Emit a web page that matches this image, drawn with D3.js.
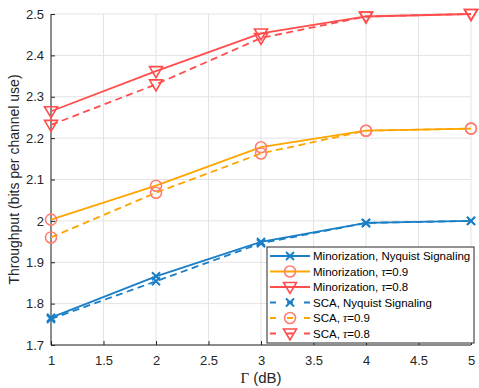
<!DOCTYPE html>
<html><head><meta charset="utf-8">
<script src="https://cdn.jsdelivr.net/npm/d3@7"></script>
<style>body{margin:0;background:#fff}svg{display:block}</style>
</head><body><svg id="c" width="479" height="388"></svg>
<script>
const gammaDb = [1, 2, 3, 4, 5];
const minNyquist = [1.766, 1.866, 1.949, 1.995, 2.000];
const minTau09 = [2.003, 2.085, 2.178, 2.218, 2.223];
const minTau08 = [2.265, 2.362, 2.453, 2.494, 2.500];
const scaNyquist = [1.763, 1.854, 1.946, 1.995, 2.000];
const scaTau09 = [1.960, 2.068, 2.163, 2.218, 2.223];
const scaTau08 = [2.232, 2.330, 2.442, 2.494, 2.500];
const xTicks = [1, 1.5, 2, 2.5, 3, 3.5, 4, 4.5, 5];
const yTicks = [1.7, 1.8, 1.9, 2.0, 2.1, 2.2, 2.3, 2.4, 2.5];

const BLUE = "#1a7fc6", ORANGE = "#ffa500", RED = "#ff4d4d", SALMON = "#ff7f73";
const series = [
  {name: "Minorization, Nyquist Signaling", vals: minNyquist, color: BLUE, mcolor: BLUE, marker: "x", dash: null},
  {name: "Minorization, ", tau: "0.9", vals: minTau09, color: ORANGE, mcolor: SALMON, marker: "o", dash: null},
  {name: "Minorization, ", tau: "0.8", vals: minTau08, color: RED, mcolor: RED, marker: "v", dash: null},
  {name: "SCA, Nyquist Signaling", vals: scaNyquist, color: BLUE, mcolor: BLUE, marker: "x", dash: "7,4.5"},
  {name: "SCA, ", tau: "0.9", vals: scaTau09, color: ORANGE, mcolor: SALMON, marker: "o", dash: "7,4.5"},
  {name: "SCA, ", tau: "0.8", vals: scaTau08, color: RED, mcolor: RED, marker: "v", dash: "7,4.5"}
];

const svg = d3.select("#c");
const L = 51, R = 471, T = 14, B = 345;
const x = d3.scaleLinear().domain([1, 5]).range([L, R]);
const y = d3.scaleLinear().domain([1.7, 2.5]).range([B, T]);
const font = "Helvetica, Arial, 'Liberation Sans', sans-serif";
const serif = "'Liberation Serif', 'DejaVu Serif', serif";

// grid
const g = svg.append("g");
g.selectAll(".gx").data(xTicks).enter().append("line")
  .attr("x1", d => x(d)).attr("x2", d => x(d)).attr("y1", T).attr("y2", B)
  .attr("stroke", "#e3e3e3").attr("stroke-width", 1);
g.selectAll(".gy").data(yTicks).enter().append("line")
  .attr("x1", L).attr("x2", R).attr("y1", d => y(d)).attr("y2", d => y(d))
  .attr("stroke", "#e3e3e3").attr("stroke-width", 1);

// axes
const xa = svg.append("g").attr("transform", `translate(0,${B})`)
  .call(d3.axisBottom(x).tickValues(xTicks).tickSize(-4).tickPadding(11).tickFormat(d3.format("")));
const ya = svg.append("g").attr("transform", `translate(${L},0)`)
  .call(d3.axisLeft(y).tickValues(yTicks).tickSize(-4).tickPadding(7).tickFormat(d => d3.format("")(+d.toFixed(1))));
[xa, ya].forEach(a => {
  a.select(".domain").attr("stroke", "#262626").attr("stroke-width", 1);
  a.selectAll(".tick line").attr("stroke", "#262626");
  a.selectAll("text").attr("font-family", font).attr("font-size", 13).attr("fill", "#262626");
});
xa.select(".domain").attr("d", `M${L},0H${R}`);
ya.select(".domain").attr("d", `M0,${B}V${T}`);

// axis labels
svg.append("text").attr("x", 261).attr("y", 383).attr("text-anchor", "middle")
  .attr("font-family", font).attr("font-size", 15).attr("fill", "#262626")
  .call(t => { t.append("tspan").attr("font-family", serif).text("Γ"); t.append("tspan").text(" (dB)"); });
svg.append("text").attr("transform", `translate(19,${(T + B) / 2}) rotate(-90)`).attr("text-anchor", "middle")
  .attr("font-family", font).attr("font-size", 14).attr("fill", "#262626")
  .text("Throughput (bits per channel use)");

function drawMarker(sel, type, cx, cy, color, s) {
  if (type === "x") {
    const h = 4 * s;
    sel.append("path").attr("d", `M${cx - h},${cy - h}L${cx + h},${cy + h}M${cx - h},${cy + h}L${cx + h},${cy - h}`)
      .attr("stroke", color).attr("stroke-width", 2).attr("fill", "none");
  } else if (type === "o") {
    sel.append("circle").attr("cx", cx).attr("cy", cy).attr("r", 5.5 * s)
      .attr("stroke", color).attr("stroke-width", 1.6).attr("fill", "none");
  } else {
    const w = 6.5 * s, h1 = 4.5 * s, h2 = 6.5 * s;
    sel.append("path").attr("d", `M${cx - w},${cy - h1}L${cx + w},${cy - h1}L${cx},${cy + h2}Z`)
      .attr("stroke", color).attr("stroke-width", 1.6).attr("fill", "none");
  }
}

const line = d3.line().x((d, i) => x(gammaDb[i])).y(d => y(d));
const plot = svg.append("g");
series.forEach(s => {
  plot.append("path").datum(s.vals).attr("d", line).attr("fill", "none")
    .attr("stroke", s.color).attr("stroke-width", 1.8).attr("stroke-dasharray", s.dash);
  s.vals.forEach((v, i) => drawMarker(plot, s.marker, x(gammaDb[i]), y(v), s.mcolor, 1));
});

// legend
const lg = svg.append("g");
const lx = 267, ly = 247, lw = 207, lh = 96;
lg.append("rect").attr("x", lx).attr("y", ly).attr("width", lw).attr("height", lh)
  .attr("fill", "#fff").attr("stroke", "#262626").attr("stroke-width", 1);
series.forEach((s, i) => {
  const cy = ly + 9 + i * 15.5;
  lg.append("line").attr("x1", lx + 3).attr("x2", lx + 43).attr("y1", cy).attr("y2", cy)
    .attr("stroke", s.color).attr("stroke-width", 1.8).attr("stroke-dasharray", s.dash ? "6,11,6,11,6" : null);
  drawMarker(lg, s.marker, lx + 23, cy, s.mcolor, 1);
  const t = lg.append("text").attr("x", lx + 46).attr("y", cy + 4)
    .attr("font-family", font).attr("font-size", 11.5).attr("fill", "#000");
  t.append("tspan").text(s.name);
  if (s.tau) {
    t.append("tspan").attr("font-family", serif).attr("font-style", "italic").text("τ");
    t.append("tspan").text("=" + s.tau);
  }
});
</script></body></html>
